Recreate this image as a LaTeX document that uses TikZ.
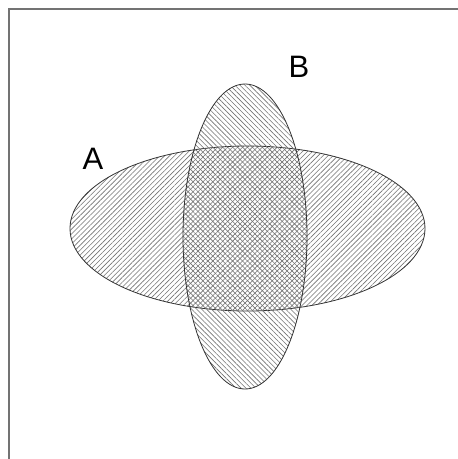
\documentclass[tikz,border=0pt]{standalone}
\usepackage{fontspec}
\setmainfont{Liberation Sans}
\usetikzlibrary{patterns.meta}
\begin{document}
\begin{tikzpicture}[x=1pt,y=-1pt,
  frameline/.style={draw=gray!90!black,line width=1.5pt},
  setA/.style={draw=black!80,line width=0.8pt,pattern={Lines[angle=45,distance=3.5pt,line width=0.6pt]},pattern color=black!55},
  setB/.style={draw=black!80,line width=0.8pt,pattern={Lines[angle=-45,distance=3.5pt,line width=0.6pt]},pattern color=black!55},
  lbl/.style={font=\fontsize{31}{37}\selectfont,inner sep=0pt}]
\useasboundingbox (0,0) rectangle (458,459);
\fill[white] (0,0) rectangle (458,459);
\coordinate (fb) at (9,459);
\coordinate (fc) at (9,9);
\coordinate (fr) at (458,9);
\draw[frameline] (fb) -- (fc) -- (fr);
\path[setA] (247.5,228.5) ellipse [x radius=177.5, y radius=82.5];
\path[setB] (245,236.5) ellipse [x radius=62, y radius=152.5];
\node[lbl] (la) at (93,158.5) {A};
\node[lbl] (lb) at (299,66.5) {B};
\end{tikzpicture}
\end{document}
